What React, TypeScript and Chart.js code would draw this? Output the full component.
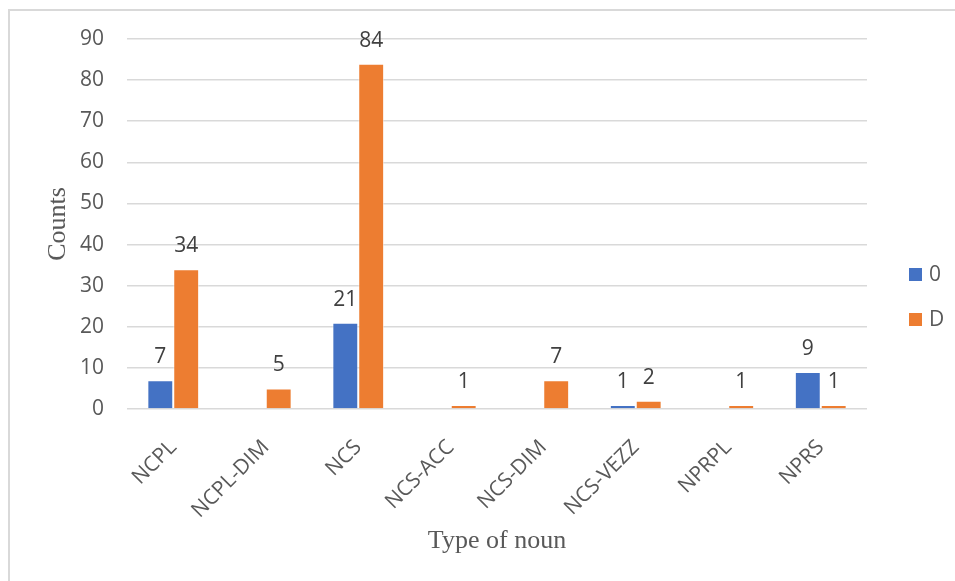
import React, { useEffect, useRef } from "react";
import { Chart, registerables } from "chart.js";

Chart.register(...registerables);

const categories = ["NCPL", "NCPL-DIM", "NCS", "NCS-ACC", "NCS-DIM", "NCS-VEZZ", "NPRPL", "NPRS"];
const series0 = [7, 0, 21, 0, 0, 1, 0, 9];
const seriesD = [34, 5, 84, 1, 7, 2, 1, 1];
const yTicks = [0, 10, 20, 30, 40, 50, 60, 70, 80, 90];

const BLUE = "#4472C4";
const ORANGE = "#ED7D31";
const TICK_FONT = "'Open Sans', 'Noto Sans', sans-serif";
const SERIF = "'Liberation Serif', 'Times New Roman', serif";

const labelPlugin = {
  id: "valueLabels",
  afterDatasetsDraw(chart: any) {
    const ctx = chart.ctx;
    ctx.save();
    ctx.font = `21px ${TICK_FONT}`;
    ctx.fillStyle = "#404040";
    ctx.textAlign = "center";
    ctx.textBaseline = "alphabetic";
    chart.data.datasets.forEach((ds: any, di: number) => {
      const meta = chart.getDatasetMeta(di);
      meta.data.forEach((bar: any, i: number) => {
        const v = ds.data[i];
        if (!v) return;
        ctx.fillText(String(v), bar.x, bar.y - 17);
      });
    });
    ctx.restore();
  },
};

const legendPlugin = {
  id: "customLegend",
  afterDraw(chart: any) {
    const ctx = chart.ctx;
    ctx.save();
    ctx.font = `21px ${TICK_FONT}`;
    ctx.textBaseline = "middle";
    ctx.textAlign = "left";
    const ys = [264, 309];
    chart.data.datasets.forEach((ds: any, di: number) => {
      const y = ys[di];
      ctx.fillStyle = ds.backgroundColor;
      ctx.fillRect(899, y - 7, 13, 13);
      ctx.fillStyle = "#595959";
      ctx.fillText(ds.label, 919, y);
    });
    ctx.restore();
  },
};

export default function App() {
  const ref = useRef<HTMLCanvasElement>(null);
  useEffect(() => {
    if (!ref.current) return;
    const chart = new Chart(ref.current, {
      type: "bar",
      data: {
        labels: categories,
        datasets: [
          { label: "0", data: series0, backgroundColor: BLUE, borderColor: "rgba(255,255,255,0.5)", borderWidth: 1 },
          { label: "D", data: seriesD, backgroundColor: ORANGE, borderColor: "rgba(255,255,255,0.5)", borderWidth: 1 },
        ],
      },
      options: {
        animation: false,
        responsive: false,
        maintainAspectRatio: false,
        layout: { padding: { top: 28, right: 88, left: 0, bottom: 0 } },
        datasets: { bar: { categoryPercentage: 0.56, barPercentage: 1 } },
        plugins: { legend: { display: false }, tooltip: { enabled: false } },
        scales: {
          x: {
            grid: { display: false },
            border: { display: false },
            ticks: {
              color: "#595959",
              font: { family: TICK_FONT, size: 21 },
              maxRotation: 45,
              minRotation: 45,
              padding: 18,
              labelOffset: 0,
            },
            title: {
              display: true,
              text: "Type of noun",
              color: "#595959",
              font: { family: SERIF, size: 26 },
              padding: { top: 0, bottom: 24 },
            },
            afterFit(s: any) {
              s.height = 172;
            },
          },
          y: {
            min: 0,
            max: 90,
            afterBuildTicks(s: any) {
              s.ticks = yTicks.map((v) => ({ value: v }));
            },
            grid: { color: "#d9d9d9", lineWidth: 1.5, drawTicks: true, tickLength: 23, tickColor: "rgba(0,0,0,0)" },
            border: { display: false },
            ticks: {
              color: "#595959",
              font: { family: TICK_FONT, size: 21 },
              padding: 0,
            },
            title: {
              display: true,
              text: "Counts",
              color: "#595959",
              font: { family: SERIF, size: 26 },
              padding: { top: 33, bottom: 0 },
            },
            afterFit(s: any) {
              s.width = 117;
            },
          },
        },
      },
      plugins: [labelPlugin, legendPlugin],
    });
    return () => chart.destroy();
  }, []);
  return (
    <div
      style={{
        position: "absolute",
        left: 8,
        top: 9,
        width: 947,
        height: 572,
        borderTop: "2px solid #d9d9d9",
        borderLeft: "2px solid #d9d9d9",
        boxSizing: "border-box",
        background: "#fff",
      }}
    >
      <canvas ref={ref} width={945} height={570} style={{ display: "block" }} />
    </div>
  );
}
